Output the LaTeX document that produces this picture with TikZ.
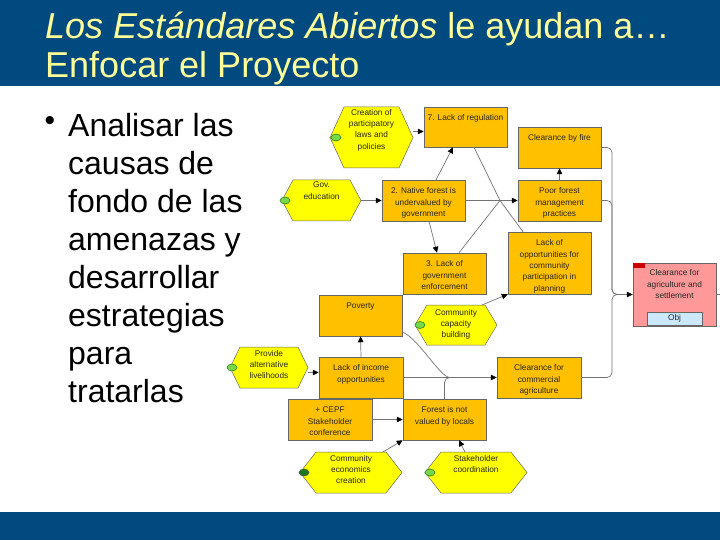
\documentclass[tikz,border=0pt]{standalone}
\usepackage{fontspec}
\setmainfont{Liberation Sans}
\usetikzlibrary{arrows.meta,calc,shapes.geometric}
\definecolor{barblue}{RGB}{0,74,127}
\definecolor{titleyel}{RGB}{255,255,153}
\definecolor{boxorange}{RGB}{255,192,0}
\definecolor{hexyellow}{RGB}{255,255,0}
\definecolor{pinkbox}{RGB}{255,153,153}
\definecolor{objblue}{RGB}{204,232,255}
\definecolor{markgreen}{RGB}{120,215,70}
\definecolor{markdark}{RGB}{30,120,30}
\definecolor{cornerred}{RGB}{204,0,0}
\newcommand\drawhex[2]{\filldraw[hexshape] (#1.west) -- ([xshift=#2pt]#1.north west) -- ([xshift=-#2pt]#1.north east) -- (#1.east) -- ([xshift=-#2pt]#1.south east) -- ([xshift=#2pt]#1.south west) -- cycle;}
\tikzset{
  box/.style={rectangle, draw=black!60, line width=0.5pt, fill=boxorange, inner sep=0pt},
  hexnode/.style={rectangle, draw=none, inner sep=0pt, outer sep=0pt},
  hexshape/.style={draw=black!60, line width=0.5pt, fill=hexyellow},
  dtxt/.style={font=\fontsize{8.3}{11.3}\selectfont, align=center, text=black!85, inner sep=0pt, anchor=north},
  titletxt/.style={font=\fontsize{36}{36}\selectfont, text=titleyel, inner sep=0pt, anchor=base west},
  bodytxt/.style={font=\fontsize{32}{38}\selectfont, text=black, inner sep=0pt, anchor=base west, align=left},
  marker/.style={ellipse, minimum width=10pt, minimum height=7pt, inner sep=0pt, fill=markgreen, draw=markdark, line width=0.5pt},
  darkmarker/.style={marker, fill=markdark, draw=black!70},
  conn/.style={draw=black!55, line width=0.7pt},
  arr/.style={conn, -{Triangle[length=6pt,width=5.5pt,color=black]}},
}
\begin{document}
\begin{tikzpicture}[x=1pt,y=-1pt]
\useasboundingbox (0,0) rectangle (720,540);
\fill[white] (0,0) rectangle (720,540);
% bars
\fill[barblue] (0,0) rectangle (720,86);
\fill[barblue] (0,512) rectangle (720,540);
\node[titletxt] (title1) at (45,39) {\textit{Los Estándares Abiertos} le ayudan a…};
\node[titletxt] (title2) at (45,78) {Enfocar el Proyecto};
% body
\node[inner sep=0pt] (bullet) at (50,123) {\fontsize{30}{30}\selectfont •};
\node[bodytxt] (body) at (68,402.5) {Analisar las\\causas de\\fondo de las\\amenazas y\\desarrollar\\estrategias\\para\\tratarlas};

% hexagons
\node[hexnode, minimum width=83pt, minimum height=61pt] (creation) at (371.5,137.5) {};
\drawhex{creation}{14}
\node[dtxt] (creation-t) at ([yshift=-2pt]creation.north) {Creation of\\participatory\\laws and\\policies};
\node[marker] (m-creation) at (336,137.5) {};

\node[hexnode, minimum width=79pt, minimum height=41pt] (goved) at (321.5,200.5) {};
\drawhex{goved}{11}
\node[dtxt] (goved-t) at ([yshift=-2pt]goved.north) {Gov.\\education};
\node[marker] (m-goved) at (285,200.5) {};

\node[hexnode, minimum width=82pt, minimum height=40pt] (capacity) at (456,325) {};
\drawhex{capacity}{12}
\node[dtxt] (capacity-t) at ([yshift=-4pt]capacity.north) {Community\\capacity\\building};
\node[marker] (m-capacity) at (420,325) {};

\node[hexnode, minimum width=78pt, minimum height=41pt] (provide) at (269,367.5) {};
\drawhex{provide}{10}
\node[dtxt] (provide-t) at ([yshift=-3pt]provide.north) {Provide\\alternative\\livelihoods};
\node[marker] (m-provide) at (232,367.5) {};

\node[hexnode, minimum width=102pt, minimum height=41pt] (econ) at (351,472.5) {};
\drawhex{econ}{16}
\node[dtxt] (econ-t) at ([yshift=-3pt]econ.north) {Community\\economics\\creation};
\node[darkmarker] (m-econ) at (304,472.5) {};

\node[hexnode, minimum width=102pt, minimum height=41pt] (stake) at (476,472.5) {};
\drawhex{stake}{16}
\node[dtxt] (stake-t) at ([yshift=-3pt]stake.north) {Stakeholder\\coordination};
\node[marker] (m-stake) at (430,472.5) {};

% boxes
\node[box, minimum width=83pt, minimum height=40pt] (lackreg) at (465.5,127) {};
\node[dtxt] (lackreg-t) at ([yshift=-8pt]lackreg.north) {7. Lack of regulation};
\node[box, minimum width=83pt, minimum height=41pt] (fire) at (559.5,147.5) {};
\node[dtxt] (fire-t) at ([yshift=-8pt]fire.north) {Clearance by fire};
\node[box, minimum width=83pt, minimum height=41pt] (native) at (423.5,200.5) {};
\node[dtxt] (native-t) at ([yshift=-8pt]native.north) {2. Native forest is\\undervalued by\\government};
\node[box, minimum width=83pt, minimum height=41pt] (poor) at (559.5,200.5) {};
\node[dtxt] (poor-t) at ([yshift=-8pt]poor.north) {Poor forest\\management\\practices};
\node[box, minimum width=83pt, minimum height=41pt] (govenf) at (444.5,273.5) {};
\node[dtxt] (govenf-t) at ([yshift=-8pt]govenf.north) {3. Lack of\\government\\enforcement};
\node[box, minimum width=83pt, minimum height=62pt] (lackopp) at (549.5,263) {};
\node[dtxt] (lackopp-t) at ([yshift=-8pt]lackopp.north) {Lack of\\opportunities for\\community\\participation in\\planning};
\node[box, fill=pinkbox, minimum width=83pt, minimum height=63pt] (pink) at (674.5,294.5) {};
\fill[cornerred] (pink.north west) rectangle ++(12,5);
\node[dtxt] (pink-t) at ([yshift=-7pt]pink.north) {Clearance for\\agriculture and\\settlement};
\node[box, fill=objblue, minimum width=55pt, minimum height=13pt, font=\fontsize{8.3}{10}\selectfont, text=black!85] (obj) at (674.5,318.5) {Obj};
\node[box, minimum width=83pt, minimum height=41pt] (poverty) at (360.5,315.5) {};
\node[dtxt] (poverty-t) at ([yshift=-8pt]poverty.north) {Poverty};
\node[box, minimum width=84pt, minimum height=41pt] (income) at (361,377.5) {};
\node[dtxt] (income-t) at ([yshift=-8pt]income.north) {Lack of income\\opportunities};
\node[box, minimum width=84pt, minimum height=41pt] (commercial) at (539,377.5) {};
\node[dtxt] (commercial-t) at ([yshift=-8pt]commercial.north) {Clearance for\\commercial\\agriculture};
\node[box, minimum width=84pt, minimum height=41pt] (cepf) at (330,419.5) {};
\node[dtxt] (cepf-t) at ([yshift=-8pt]cepf.north) {+ CEPF\\Stakeholder\\conference};
\node[box, minimum width=83pt, minimum height=41pt] (forest) at (444.5,419.5) {};
\node[dtxt] (forest-t) at ([yshift=-8pt]forest.north) {Forest is not\\valued by locals};

% junctions
\coordinate (jm) at (500,200.5);
\coordinate (jr) at (617,294.5);
\coordinate (jl) at (450,377.5);
\coordinate (pout) at (720,294.5);

% connectors
\draw[arr] ([yshift=6pt]creation.east) -- ([yshift=6pt]creation.east -| lackreg.west);
\draw[arr] (goved.east) -- (native.west);
\draw[arr] ([xshift=12.5pt]native.north) -- ([xshift=-12.5pt]lackreg.south);
\draw[arr] ([xshift=5.5pt]native.south) -- ([xshift=-7.5pt]govenf.north);
\draw[conn] (native.east) -- (jm);
\draw[conn] ([xshift=8.5pt]lackreg.south) -- (jm);
\draw[conn] ([xshift=14.5pt]govenf.north) -- (jm);
\draw[conn] ([xshift=-26.5pt]lackopp.north) -- (jm);
\draw[arr] (jm) -- (poor.west);
\draw[arr] (poor.north) -- (fire.south);
\draw[conn, rounded corners=5pt] (fire.east) -| ([xshift=-5pt]jr) -- (jr);
\draw[conn, rounded corners=5pt] (poor.east) -| ([xshift=-5pt]jr) -- (jr);
\draw[conn, rounded corners=5pt] (commercial.east) -| ([xshift=-5pt]jr) -- (jr);
\draw[arr] (jr) -- (pink.west);
\draw[conn] (pink.east) -- (pout);
\draw[arr] (income.north) -- (poverty.south);
\draw[arr] ([yshift=-5pt]provide.east) -- ([yshift=5pt]income.west);
\draw[conn] (income.east) -- (jl);
\draw[conn] ([yshift=-16.5pt]poverty.east) .. controls +(16,6) and +(-10,0) .. (jl);
\draw[conn, rounded corners=5pt] (forest.north) |- (jl);
\draw[arr] (jl) -- (commercial.west);
\draw[arr] (cepf.east) -- (forest.west);
\draw[arr] ([xshift=32pt]econ.north) -- (forest.south west);
\draw[arr] ([xshift=-11pt]stake.north) -- ([xshift=14.5pt]forest.south);
\draw[arr] ([xshift=26pt]capacity.north) -- (lackopp.south west);
\end{tikzpicture}
\end{document}
